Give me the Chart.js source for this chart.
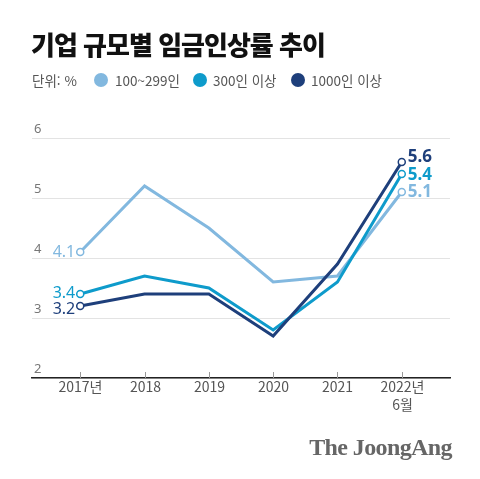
<!DOCTYPE html>
<html lang="ko">
<head>
<meta charset="utf-8">
<script src="https://cdn.jsdelivr.net/npm/chart.js@4.4.1/dist/chart.umd.min.js"></script>
<style>
  html, body { margin: 0; padding: 0; background: #fff; }
  body { width: 480px; height: 479px; position: relative; overflow: hidden;
         font-family: "Noto Sans CJK KR", "Noto Sans", sans-serif; }
  #title { position: absolute; left: 31px; top: 24px; font-size: 26px; font-weight: 900;
           letter-spacing: -1px; color: #111; line-height: 40px; white-space: nowrap; }
  .lg { position: absolute; top: 69px; font-size: 13.5px; color: #555; line-height: 22px; white-space: nowrap; }
  .dot { position: absolute; top: 73px; width: 14px; height: 14px; border-radius: 50%; }
  #logo { position: absolute; right: 28px; top: 434px; font-family: "Liberation Serif", serif;
          font-weight: bold; font-size: 24px; color: #666; letter-spacing: -0.6px; }
  #wrap { position: absolute; left: 0; top: 0; width: 480px; height: 479px; }
</style>
</head>
<body>
<div id="wrap"><canvas id="chart" width="480" height="479"></canvas></div>
<div id="title">기업 규모별 임금인상률 추이</div>
<div class="lg" style="left:32px">단위: %</div>
<div class="dot" style="left:94px;background:#82b8df"></div><div class="lg" style="left:115px">100~299인</div>
<div class="dot" style="left:193px;background:#0e9bcb"></div><div class="lg" style="left:213px">300인 이상</div>
<div class="dot" style="left:291px;background:#1e3f7b"></div><div class="lg" style="left:311px">1000인 이상</div>
<div id="logo">The JoongAng</div>
<script>
const years = [["2017년"], ["2018"], ["2019"], ["2020"], ["2021"], ["2022년", "6월"]];
const yTicks = [2, 3, 4, 5, 6];

const seriesNames = ["100~299인", "300인 이상", "1000인 이상"];
const mid100 = [4.1, 5.2, 4.5, 3.6, 3.7, 5.1];
const over300 = [3.4, 3.7, 3.5, 2.8, 3.6, 5.4];
const over1000 = [3.2, 3.4, 3.4, 2.7, 3.9, 5.6];

const colors = ["#82b8df", "#0e9bcb", "#1e3f7b"];
const allSeries = [mid100, over300, over1000];

// label vertical nudges (px) so labels don't collide
const startNudge = [0, -1, 3];
const endNudge = [0, 1, -5];

const lastIdx = years.length - 1;

const datasets = allSeries.map((vals, s) => ({
  label: seriesNames[s],
  data: vals.map((v, i) => ({ x: i, y: v })),
  borderColor: colors[s],
  borderWidth: 3,
  backgroundColor: "#fff",
  pointBackgroundColor: "#fff",
  pointBorderColor: colors[s],
  pointBorderWidth: 1.5,
  pointRadius: ctx => (ctx.dataIndex === 0 || ctx.dataIndex === lastIdx) ? 3.5 : 0,
  tension: 0,
  fill: false,
  order: 3 - s
}));

const drawExtras = {
  id: "drawExtras",
  afterDatasetsDraw(chart) {
    const c = chart.ctx;
    const xs = chart.scales.x, ys = chart.scales.y;
    const bottom = chart.chartArea.bottom;
    c.save();

    // y labels, sitting above each gridline
    c.font = "13px 'Noto Sans', sans-serif";
    c.fillStyle = "#777";
    c.textAlign = "left";
    c.textBaseline = "alphabetic";
    yTicks.forEach(t => {
      c.fillText(String(t), 34, ys.getPixelForValue(t) - 5);
    });

    // x tick marks (inside) and labels
    c.strokeStyle = "#999";
    c.lineWidth = 1;
    c.font = "14px 'Noto Sans CJK KR', sans-serif";
    c.fillStyle = "#555";
    c.textAlign = "center";
    c.textBaseline = "top";
    years.forEach((lab, i) => {
      const px = Math.round(xs.getPixelForValue(i)) + 0.5;
      c.beginPath();
      c.moveTo(px, bottom - 6);
      c.lineTo(px, bottom);
      c.stroke();
      lab.forEach((line, k) => c.fillText(line, px, bottom + 2 + k * 18));
    });

    // value labels at start and end points
    allSeries.forEach((vals, s) => {
      c.fillStyle = colors[s];
      c.textBaseline = "middle";
      c.font = "16px 'Noto Sans', sans-serif";
      c.textAlign = "right";
      c.fillText(vals[0].toFixed(1), xs.getPixelForValue(0) - 5, ys.getPixelForValue(vals[0]) + startNudge[s]);
      c.font = "bold 17px 'Noto Sans', sans-serif";
      c.textAlign = "left";
      c.fillText(vals[lastIdx].toFixed(1), xs.getPixelForValue(lastIdx) + 6, ys.getPixelForValue(vals[lastIdx]) + endNudge[s]);
    });
    c.restore();
  }
};

new Chart(document.getElementById("chart"), {
  type: "line",
  data: { datasets },
  options: {
    responsive: false,
    animation: false,
    layout: { padding: { left: 32, right: 30, top: 138, bottom: 101 } },
    plugins: { legend: { display: false }, tooltip: { enabled: false } },
    scales: {
      x: {
        type: "linear",
        min: -0.75,
        max: 5.75,
        ticks: { display: false },
        grid: { display: false, drawTicks: false },
        border: { display: true, color: "#222", width: 1.5 }
      },
      y: {
        min: 2,
        max: 6,
        ticks: { display: false, stepSize: 1 },
        grid: { color: "#e3e3e3", lineWidth: 1, drawTicks: false },
        border: { display: false }
      }
    }
  },
  plugins: [drawExtras]
});
</script>
</body>
</html>
